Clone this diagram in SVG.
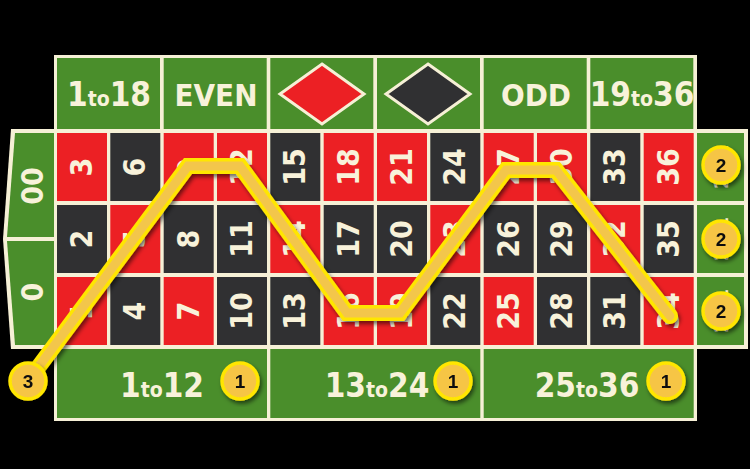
<svg xmlns="http://www.w3.org/2000/svg" width="750" height="469" viewBox="0 0 750 469">
<defs>
<style>
.cream{fill:#f6f0d6}
.g{fill:#4a8e2b}
.r{fill:#ec2024}
.b{fill:#303032}
.lbl{font-family:"Liberation Sans Narrow","DejaVu Sans Condensed","Liberation Sans",sans-serif;font-weight:bold;fill:#f8f2da;text-anchor:middle}
.num{font-family:"Liberation Sans Narrow","DejaVu Sans Condensed","Liberation Sans",sans-serif;font-weight:bold;fill:#f8f2da;text-anchor:middle;font-size:30px}
.small{font-size:19px}
.chip circle{fill:#f6c545;stroke:#ffe600;stroke-width:3.5}
.chip text{font-family:"Liberation Sans",Arial,sans-serif;font-weight:bold;font-size:19px;fill:#111;text-anchor:middle}
</style>
<filter id="sh" x="-20%" y="-20%" width="140%" height="140%">
<feDropShadow dx="2" dy="3" stdDeviation="2" flood-color="#000" flood-opacity="0.55"/>
</filter>
</defs>
<rect width="750" height="469" fill="#000"/>
<g id="board">
<rect class="cream" x="54" y="55" width="643" height="366"/>
<rect class="cream" x="54" y="129" width="694" height="220"/>
<polygon class="cream" points="11,129 58,129 58,349 11,349 3,239"/>
</g>
<g id="zero">
<polygon class="g" points="15,133 54,133 54,237 7,237"/>
<polygon class="g" points="7,241 54,241 54,345 15,345"/>
<text class="num" transform="translate(33,186) rotate(-90)" dy="10">00</text>
<text class="num" transform="translate(33,292) rotate(-90)" dy="10">0</text>
</g>
<g id="outside-top">
<rect class="g" x="57" y="58" width="103" height="71"/>
<rect class="g" x="163.7" y="58" width="103" height="71"/>
<rect class="g" x="270.3" y="58" width="103" height="71"/>
<rect class="g" x="377" y="58" width="103" height="71"/>
<rect class="g" x="483.7" y="58" width="103" height="71"/>
<rect class="g" x="590.3" y="58" width="103" height="71"/>
<text class="lbl" x="109" y="106" font-size="33">1<tspan font-size="21">to</tspan>18</text>
<text class="lbl" x="216" y="106" font-size="31">EVEN</text>
<polygon points="322,64 364,94 322,124 280,94" fill="#ec2024" stroke="#f6f0d6" stroke-width="3"/>
<polygon points="428,64 470,94 428,124 386,94" fill="#303032" stroke="#f6f0d6" stroke-width="3"/>
<text class="lbl" x="536" y="106" font-size="31">ODD</text>
<text class="lbl" x="642" y="106" font-size="33">19<tspan font-size="21">to</tspan>36</text>
</g>
<g id="grid">
<rect class="r" x="57" y="133" width="50" height="68"/><text class="num" transform="translate(82,167) rotate(-90)" dy="10">3</text>
<rect class="b" x="57" y="205" width="50" height="68"/><text class="num" transform="translate(82,239) rotate(-90)" dy="10">2</text>
<rect class="r" x="57" y="277" width="50" height="68"/><text class="num" transform="translate(82,311) rotate(-90)" dy="10">1</text>
<rect class="b" x="110.3" y="133" width="50" height="68"/><text class="num" transform="translate(135.3,167) rotate(-90)" dy="10">6</text>
<rect class="r" x="110.3" y="205" width="50" height="68"/><text class="num" transform="translate(135.3,239) rotate(-90)" dy="10">5</text>
<rect class="b" x="110.3" y="277" width="50" height="68"/><text class="num" transform="translate(135.3,311) rotate(-90)" dy="10">4</text>
<rect class="r" x="163.7" y="133" width="50" height="68"/><text class="num" transform="translate(188.7,167) rotate(-90)" dy="10">9</text>
<rect class="b" x="163.7" y="205" width="50" height="68"/><text class="num" transform="translate(188.7,239) rotate(-90)" dy="10">8</text>
<rect class="r" x="163.7" y="277" width="50" height="68"/><text class="num" transform="translate(188.7,311) rotate(-90)" dy="10">7</text>
<rect class="r" x="217" y="133" width="50" height="68"/><text class="num" transform="translate(242,167) rotate(-90)" dy="10">12</text>
<rect class="b" x="217" y="205" width="50" height="68"/><text class="num" transform="translate(242,239) rotate(-90)" dy="10">11</text>
<rect class="b" x="217" y="277" width="50" height="68"/><text class="num" transform="translate(242,311) rotate(-90)" dy="10">10</text>
<rect class="b" x="270.3" y="133" width="50" height="68"/><text class="num" transform="translate(295.3,167) rotate(-90)" dy="10">15</text>
<rect class="r" x="270.3" y="205" width="50" height="68"/><text class="num" transform="translate(295.3,239) rotate(-90)" dy="10">14</text>
<rect class="b" x="270.3" y="277" width="50" height="68"/><text class="num" transform="translate(295.3,311) rotate(-90)" dy="10">13</text>
<rect class="r" x="323.7" y="133" width="50" height="68"/><text class="num" transform="translate(348.7,167) rotate(-90)" dy="10">18</text>
<rect class="b" x="323.7" y="205" width="50" height="68"/><text class="num" transform="translate(348.7,239) rotate(-90)" dy="10">17</text>
<rect class="r" x="323.7" y="277" width="50" height="68"/><text class="num" transform="translate(348.7,311) rotate(-90)" dy="10">16</text>
<rect class="r" x="377" y="133" width="50" height="68"/><text class="num" transform="translate(402,167) rotate(-90)" dy="10">21</text>
<rect class="b" x="377" y="205" width="50" height="68"/><text class="num" transform="translate(402,239) rotate(-90)" dy="10">20</text>
<rect class="r" x="377" y="277" width="50" height="68"/><text class="num" transform="translate(402,311) rotate(-90)" dy="10">19</text>
<rect class="b" x="430.3" y="133" width="50" height="68"/><text class="num" transform="translate(455.3,167) rotate(-90)" dy="10">24</text>
<rect class="r" x="430.3" y="205" width="50" height="68"/><text class="num" transform="translate(455.3,239) rotate(-90)" dy="10">23</text>
<rect class="b" x="430.3" y="277" width="50" height="68"/><text class="num" transform="translate(455.3,311) rotate(-90)" dy="10">22</text>
<rect class="r" x="483.7" y="133" width="50" height="68"/><text class="num" transform="translate(508.7,167) rotate(-90)" dy="10">27</text>
<rect class="b" x="483.7" y="205" width="50" height="68"/><text class="num" transform="translate(508.7,239) rotate(-90)" dy="10">26</text>
<rect class="r" x="483.7" y="277" width="50" height="68"/><text class="num" transform="translate(508.7,311) rotate(-90)" dy="10">25</text>
<rect class="r" x="537" y="133" width="50" height="68"/><text class="num" transform="translate(562,167) rotate(-90)" dy="10">30</text>
<rect class="b" x="537" y="205" width="50" height="68"/><text class="num" transform="translate(562,239) rotate(-90)" dy="10">29</text>
<rect class="b" x="537" y="277" width="50" height="68"/><text class="num" transform="translate(562,311) rotate(-90)" dy="10">28</text>
<rect class="b" x="590.3" y="133" width="50" height="68"/><text class="num" transform="translate(615.3,167) rotate(-90)" dy="10">33</text>
<rect class="r" x="590.3" y="205" width="50" height="68"/><text class="num" transform="translate(615.3,239) rotate(-90)" dy="10">32</text>
<rect class="b" x="590.3" y="277" width="50" height="68"/><text class="num" transform="translate(615.3,311) rotate(-90)" dy="10">31</text>
<rect class="r" x="643.7" y="133" width="50" height="68"/><text class="num" transform="translate(668.7,167) rotate(-90)" dy="10">36</text>
<rect class="b" x="643.7" y="205" width="50" height="68"/><text class="num" transform="translate(668.7,239) rotate(-90)" dy="10">35</text>
<rect class="r" x="643.7" y="277" width="50" height="68"/><text class="num" transform="translate(668.7,311) rotate(-90)" dy="10">34</text>
</g>
<g id="columns">
<rect class="g" x="697" y="133" width="47" height="68"/>
<rect class="g" x="697" y="205" width="47" height="68"/>
<rect class="g" x="697" y="277" width="47" height="68"/>
<text class="num small" transform="translate(720.5,167) rotate(-90)" dy="7">2to1</text>
<text class="num small" transform="translate(720.5,239) rotate(-90)" dy="7">2to1</text>
<text class="num small" transform="translate(720.5,311) rotate(-90)" dy="7">2to1</text>
</g>
<g id="dozens">
<rect class="g" x="57" y="349" width="210" height="69"/>
<rect class="g" x="270.3" y="349" width="210" height="69"/>
<rect class="g" x="483.7" y="349" width="210" height="69"/>
<text class="lbl" x="162" y="397" font-size="33">1<tspan font-size="21">to</tspan>12</text>
<text class="lbl" x="377" y="397" font-size="33">13<tspan font-size="21">to</tspan>24</text>
<text class="lbl" x="587" y="397" font-size="33">25<tspan font-size="21">to</tspan>36</text>
</g>
<g id="connectors" filter="url(#sh)">
<polyline points="28,381 188,166 240,166 347,313 400,313 506,170 556,170 670,316" fill="none" stroke="#ffe600" stroke-width="16" stroke-linejoin="miter" stroke-linecap="round"/>
<polyline points="28,381 188,166 240,166 347,313 400,313 506,170 556,170 670,316" fill="none" stroke="#f3c64b" stroke-width="9" stroke-linejoin="miter" stroke-linecap="round"/>
</g>
<g id="chip-3" class="chip" filter="url(#sh)"><circle cx="28" cy="381" r="18"/><text x="28" y="388">3</text></g>
<g id="chip-1a" class="chip" filter="url(#sh)"><circle cx="240" cy="381" r="18"/><text x="240" y="388">1</text></g>
<g id="chip-1b" class="chip" filter="url(#sh)"><circle cx="453" cy="381" r="18"/><text x="453" y="388">1</text></g>
<g id="chip-1c" class="chip" filter="url(#sh)"><circle cx="666" cy="381" r="18"/><text x="666" y="388">1</text></g>
<g id="chip-2a" class="chip" filter="url(#sh)"><circle cx="721" cy="165" r="18"/><text x="721" y="172">2</text></g>
<g id="chip-2b" class="chip" filter="url(#sh)"><circle cx="721" cy="239" r="18"/><text x="721" y="246">2</text></g>
<g id="chip-2c" class="chip" filter="url(#sh)"><circle cx="721" cy="311" r="18"/><text x="721" y="318">2</text></g>
</svg>
